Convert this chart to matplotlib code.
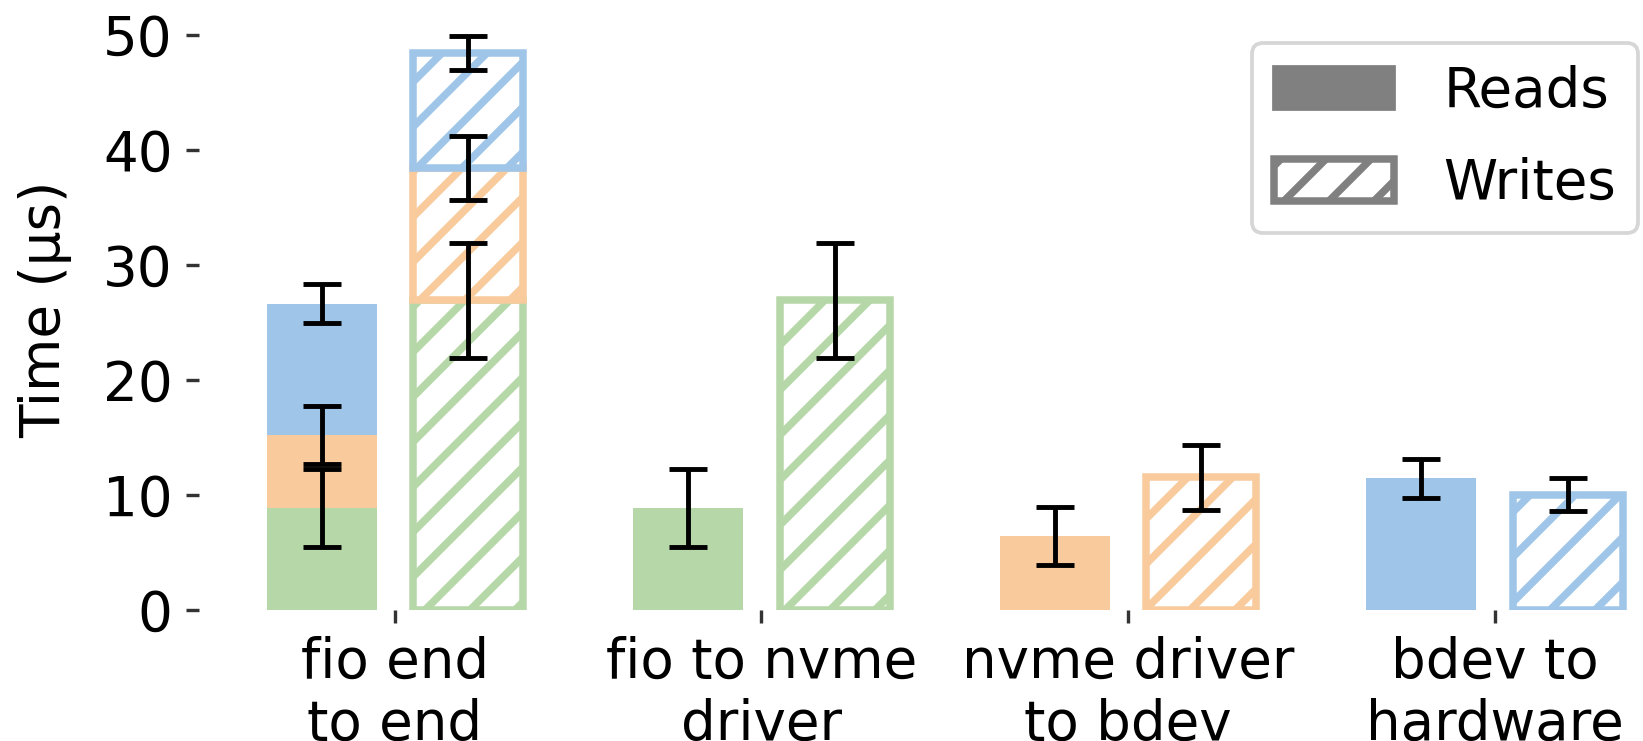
import matplotlib.pyplot as plt
from matplotlib.patches import Patch

# per-stage latency (us), mean and error
stages = ["fio to nvme driver", "nvme driver to bdev", "bdev to hardware"]
group_labels = ["fio end\nto end", "fio to nvme\ndriver", "nvme driver\nto bdev", "bdev to\nhardware"]
read_mean = [8.8, 6.4, 11.4]
read_err = [3.4, 2.5, 1.7]
write_mean = [26.9, 11.5, 10.0]
write_err = [5.0, 2.8, 1.45]
stage_colors = ["#b6d7a8", "#f9cb9c", "#9fc5e8"]

DPI = 270
W, H = 1643, 741
FS = 14.6

plt.rcParams["font.family"] = "DejaVu Sans"
plt.rcParams["hatch.linewidth"] = 2.0

fig = plt.figure(figsize=(W / DPI, H / DPI), dpi=DPI)
ax = fig.add_axes([0.121, 0.1774, 0.908, 0.8116])

bw = 0.3
off = 0.2
err_kw = dict(fmt="none", ecolor="black", capsize=5, elinewidth=1.3, capthick=1.3)

# stacked end-to-end group at x=0
r_base = 0.0
w_base = 0.0
for i, c in enumerate(stage_colors):
    ax.bar(-off, read_mean[i], bw, bottom=r_base, color=c, linewidth=0)
    ax.bar(off, write_mean[i], bw, bottom=w_base, facecolor="white",
           edgecolor=c, hatch="//", linewidth=2)
    r_base += read_mean[i]
    w_base += write_mean[i]
    ax.errorbar(-off, r_base, yerr=read_err[i], **err_kw)
    ax.errorbar(off, w_base, yerr=write_err[i], **err_kw)

# individual stages
for i, c in enumerate(stage_colors):
    x = i + 1
    ax.bar(x - off, read_mean[i], bw, color=c, linewidth=0)
    ax.bar(x + off, write_mean[i], bw, facecolor="white", edgecolor=c,
           hatch="//", linewidth=2)
    ax.errorbar(x - off, read_mean[i], yerr=read_err[i], **err_kw)
    ax.errorbar(x + off, write_mean[i], yerr=write_err[i], **err_kw)

ax.set_xlim(-0.535, 3.535)
ax.set_ylim(0, 52.3)
ax.set_xticks(range(len(group_labels)))
ax.set_xticklabels(group_labels, fontsize=FS)
ax.set_yticks([0, 10, 20, 30, 40, 50])
ax.tick_params(axis="both", labelsize=FS, length=3.5, width=0.9, color="#333333")
for s in ax.spines.values():
    s.set_visible(False)
ax.set_ylabel("Time (μs)", fontsize=FS)
ax.yaxis.set_label_coords(-0.085, 0.5)

handles = [
    Patch(facecolor="gray", edgecolor="gray", label="Reads"),
    Patch(facecolor="white", edgecolor="gray", hatch="//", linewidth=2, label="Writes"),
]
fig.legend(handles=handles, loc="upper left", bbox_to_anchor=(1252 / W, 1 - 43 / H),
           fontsize=FS, borderaxespad=0, handlelength=2.2, handleheight=0.8,
           handletextpad=0.9, labelspacing=0.7)

fig.savefig("out.png", dpi=DPI)
